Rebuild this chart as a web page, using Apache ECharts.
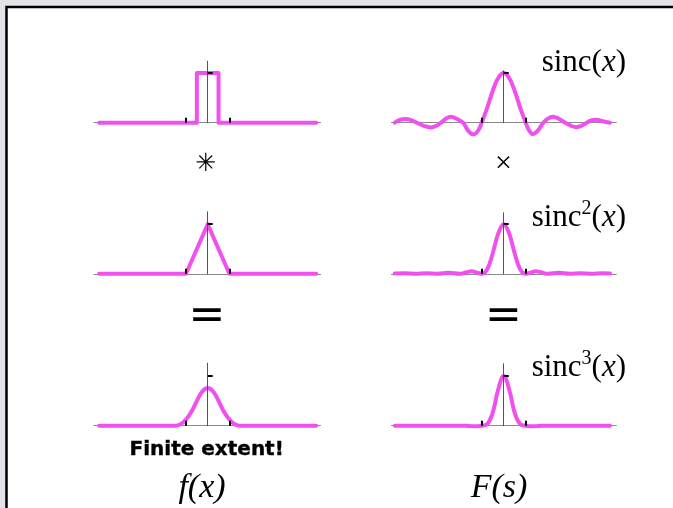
<!DOCTYPE html>
<html>
<head>
<meta charset="utf-8">
<script src="https://cdn.jsdelivr.net/npm/echarts@6/dist/echarts.min.js"></script>
<style>html,body{margin:0;padding:0;background:#e1e3e6;}#c{width:673px;height:508px;}</style>
</head>
<body>
<div id="c"></div>
<script>
// ---- data ----
const rectX = [-5, -0.5, -0.5, 0.5, 0.5, 5];
const rectY = [0, 0, 1, 1, 0, 0];
const triX = [-5, -1, 0, 1, 5];
const triY = [0, 0, 1, 0, 0];
const bellX = [-5, -2, -1.75, -1.5, -1.25, -1, -0.75, -0.5, -0.25, 0, 0.25, 0.5, 0.75, 1, 1.25, 1.5, 1.75, 2, 5];
const bellY = [0, 0, 0, 0, 0.03, 0.125, 0.28, 0.5, 0.69, 0.76, 0.69, 0.5, 0.28, 0.125, 0.03, 0, 0, 0, 0];
const sincX = [-4.95, -4.7, -4.45, -4.2, -3.95, -3.6, -3.3, -3.05, -2.85, -2.6, -2.4, -2.15, -1.85, -1.6, -1.38, -1.15, -1.0, -0.75, -0.5, -0.25, 0, 0.25, 0.5, 0.75, 1.0, 1.15, 1.33, 1.55, 1.8, 2.0, 2.24, 2.5, 2.8, 3.05, 3.3, 3.55, 3.77, 4.0, 4.2, 4.5, 4.83];
const sincY = [0.0, 0.06, 0.075, 0.05, 0.0, -0.07, -0.095, -0.06, 0.0, 0.09, 0.12, 0.08, 0.0, -0.17, -0.235, -0.15, 0.0, 0.3, 0.64, 0.9, 1.0, 0.9, 0.64, 0.3, 0.0, -0.15, -0.23, -0.16, 0.0, 0.08, 0.12, 0.08, 0.0, -0.06, -0.09, -0.06, 0.0, 0.05, 0.06, 0.03, 0.0];
const sinc2X = [-4.95, -4.5, -4, -3.5, -3, -2.5, -2, -1.7, -1.45, -1.2, -1, -0.75, -0.5, -0.25, 0, 0.25, 0.5, 0.75, 1, 1.2, 1.45, 1.7, 2, 2.5, 3, 3.5, 4, 4.5, 4.83];
const sinc2Y = [0.005, 0.01, 0.0, 0.012, 0.0, 0.02, 0.0, 0.03, 0.05, 0.02, 0.0, 0.09, 0.41, 0.81, 1.0, 0.81, 0.41, 0.09, 0.0, 0.02, 0.05, 0.03, 0.0, 0.02, 0.0, 0.012, 0.0, 0.01, 0.005];
const sinc3X = [-4.95, -4, -3, -2, -1.6, -1.3, -1, -0.75, -0.5, -0.25, 0, 0.25, 0.5, 0.75, 1, 1.3, 1.6, 2, 3, 4, 4.83];
const sinc3Y = [0, 0, 0, 0, -0.005, -0.012, 0, 0.03, 0.26, 0.73, 1, 0.73, 0.26, 0.03, 0, -0.012, -0.005, 0, 0, 0, 0];
const xTickValues = [-1, 1];
const yTickValues = [1];

// ---- layout ----
const PINK = '#f050ee';
const cols = [
  {cx: 207.7, unit: 21.7, min: -5.25, max: 5.2},
  {cx: 503.7, unit: 22.0, min: -5.1, max: 5.12}
];
const rows = [122.7, 273.8, 425.7];
const unitY = 49.6;
const panels = [
  {col: 0, row: 0, xs: rectX, ys: rectY, ymax: 1.24, smooth: false},
  {col: 1, row: 0, xs: sincX, ys: sincY, ymax: 1.05, smooth: 0.4},
  {col: 0, row: 1, xs: triX, ys: triY, ymax: 1.25, smooth: false},
  {col: 1, row: 1, xs: sinc2X, ys: sinc2Y, ymax: 1.23, smooth: 0.4},
  {col: 0, row: 2, xs: bellX, ys: bellY, ymax: 1.26, smooth: 0.4},
  {col: 1, row: 2, xs: sinc3X, ys: sinc3Y, ymax: 1.25, smooth: 0.4}
];

const grid = [], xAxis = [], yAxis = [], series = [];
panels.forEach((p, i) => {
  const c = cols[p.col];
  const base = rows[p.row];
  grid.push({
    left: c.cx + c.min * c.unit,
    width: (c.max - c.min) * c.unit,
    top: base - p.ymax * unitY,
    height: p.ymax * unitY,
    containLabel: false
  });
  xAxis.push({
    type: 'value', gridIndex: i, min: c.min, max: c.max, z: 0,
    axisLine: {show: true, onZero: false, lineStyle: {color: '#8a8a8a', width: 1}},
    axisTick: {show: false}, axisLabel: {show: false}, splitLine: {show: false}
  });
  xAxis.push({
    type: 'value', gridIndex: i, min: c.min, max: c.max, position: 'bottom', z: 5,
    axisLine: {show: false, onZero: false},
    axisTick: {show: true, inside: true, length: 5, customValues: xTickValues, lineStyle: {color: '#000', width: 2}},
    axisLabel: {show: false}, splitLine: {show: false}
  });
  yAxis.push({
    type: 'value', gridIndex: i, min: 0, max: p.ymax, z: 5,
    axisLine: {show: true, onZero: true, onZeroAxisIndex: 2 * i, lineStyle: {color: '#555', width: 1}},
    axisTick: {show: true, inside: true, length: 5, customValues: yTickValues, lineStyle: {color: '#000', width: 2}},
    axisLabel: {show: false}, splitLine: {show: false}
  });
  series.push({
    type: 'line', xAxisIndex: 2 * i, yAxisIndex: i,
    data: p.xs.map((x, k) => [x, p.ys[k]]),
    showSymbol: false, symbol: 'none', smooth: p.smooth, clip: false, z: 2,
    lineStyle: {color: PINK, width: 4, cap: 'round', join: 'round'},
    silent: true, animation: false
  });
});

const serif = '"Liberation Serif", "DejaVu Serif", serif';
function sincLabel(sup, y) {
  const txt = sup ? '{n|sinc}{s|' + sup + '}{n|(}{i|x}{n|)}' : '{n|sinc(}{i|x}{n|)}';
  return {
    type: 'text', right: 673 - 626, top: y - 19, z: 10,
    style: {
      text: txt,
      rich: {
        n: {fontFamily: serif, fontSize: 31, fill: '#000', lineHeight: 38},
        i: {fontFamily: serif, fontSize: 31, fontStyle: 'italic', fill: '#000', lineHeight: 38},
        s: {fontFamily: serif, fontSize: 20, fill: '#000', verticalAlign: 'top', lineHeight: 38, padding: [0, 0, 12, 0]}
      }
    }
  };
}
function centerText(text, x, y, font, extra) {
  return {
    type: 'text', x: x, y: y, z: 10,
    style: Object.assign({text: text, font: font, fill: '#000', textAlign: 'center', textVerticalAlign: 'middle'}, extra || {})
  };
}

const graphic = [
  {type: 'rect', z: -1, shape: {x: 6.5, y: 7, width: 700, height: 600},
   style: {fill: '#ffffff', stroke: '#000000', lineWidth: 2.5}},
  sincLabel(null, 66),
  sincLabel('2', 218),
  sincLabel('3', 368),
  centerText('\u2733', 206, 164, '25px "DejaVu Sans"'),
  centerText('\u00d7', 503.5, 164, '30px "Liberation Serif"'),
  centerText('=', 207, 318, '44px "DejaVu Sans"'),
  centerText('=', 503.5, 318, '44px "DejaVu Sans"'),
  centerText('Finite extent!', 206.7, 450, 'bold 20px "DejaVu Sans"', {stroke: '#000', lineWidth: 0.4}),
  centerText('f(x)', 202, 488, 'italic 34px "Liberation Serif"'),
  centerText('F(s)', 499, 488, 'italic 34px "Liberation Serif"')
];

const chart = echarts.init(document.getElementById('c'), null, {renderer: 'canvas'});
chart.setOption({
  backgroundColor: '#e1e3e6',
  animation: false,
  grid: grid, xAxis: xAxis, yAxis: yAxis, series: series,
  graphic: graphic
});
</script>
</body>
</html>
